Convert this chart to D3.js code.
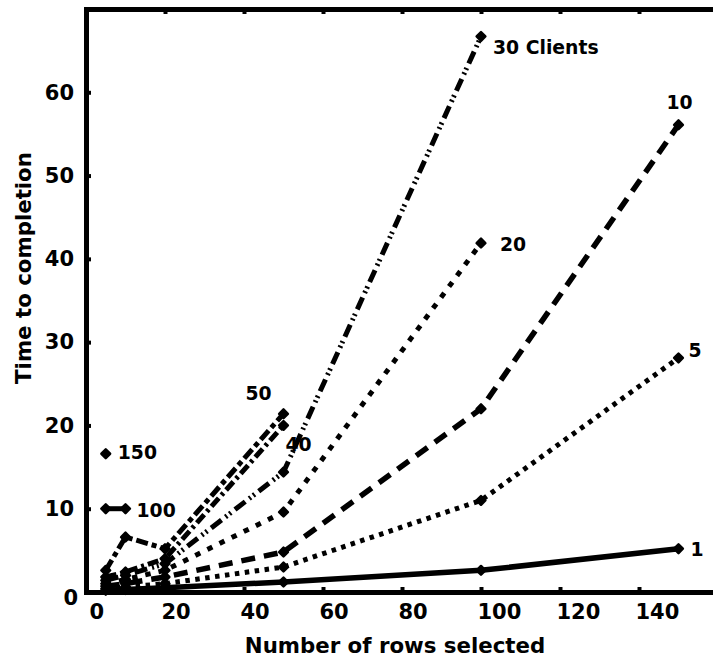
<!DOCTYPE html>
<html>
<head>
<meta charset="utf-8">
<script src="https://cdn.jsdelivr.net/npm/d3@7"></script>
<style>
  body { margin: 0; background: #fff; }
  svg { display: block; font-family: "DejaVu Sans", sans-serif; font-weight: bold; }
</style>
</head>
<body>
<svg id="chart" width="713" height="658"></svg>
<script>
// rows selected (x) and completion time per client count
const rows = [5, 10, 20, 50, 100, 150];
const time1   = [0.2, 0.3, 0.5, 1.2, 2.6, 5.2];
const time5   = [0.4, 0.6, 1.0, 3.0, 11.0, 28.1];
const time10  = [0.7, 1.0, 1.8, 4.8, 22.0, 56.1];
const time20  = [1.0, 1.5, 2.6, 9.6, 41.9];
const time30  = [1.4, 2.0, 3.4, 14.4, 66.7];
const time40  = [1.8, 2.4, 4.0, 20.0];
const time50  = [2.6, 6.6, 5.2, 21.4];
const time100 = [10.0, 10.0];
const time150 = [16.6];

const xTicks = [0, 20, 40, 60, 80, 100, 120, 140];
const yTicks = [0, 10, 20, 30, 40, 50, 60];

const seriesNames = ['1', '5', '10', '20', '30 Clients', '40', '50', '100', '150'];
const seriesVals  = [time1, time5, time10, time20, time30, time40, time50, time100, time150];

// ── styles per series (dash, width, label offset)
const styles = {
  '1':          { dash: null,              w: 5.5, lx: 12, ly: 7 },
  '5':          { dash: '4.5,5.5',         w: 5,   lx: 10, ly: -1 },
  '10':         { dash: '14,9',            w: 5.5, lx: -12, ly: -16 },
  '20':         { dash: '5.5,8',           w: 5,   lx: 19, ly: 8 },
  '30 Clients': { dash: '13,5,2,3,2,5',    w: 5,   lx: 12, ly: 18 },
  '40':         { dash: '11,4,3,4',        w: 5,   lx: 2,  ly: 26 },
  '50':         { dash: '12,4,5,4',        w: 5,   lx: -38, ly: -14 },
  '100':        { dash: null,              w: 5,   lx: 11, ly: 8 },
  '150':        { dash: null,              w: 5,   lx: 12, ly: 5 },
};

const svg = d3.select('#chart');
const x = d3.scaleLinear().domain([0, 160]).range([86, 718]);
const y = d3.scaleLinear().domain([0, 70]).range([592, 9]);

/* ── axes ─────────────────────────────────────────────── */
const gx = svg.append('g').attr('transform', `translate(0,${y(0)})`)
  .call(d3.axisBottom(x).tickValues(xTicks).tickSize(-5).tickSizeOuter(0).tickPadding(12));
gx.selectAll('text').attr('text-anchor', 'start').attr('dx', d => d === 0 ? 3 : -4);
gx.selectAll('.tick').filter(d => d === 0).select('line').remove();

const gy = svg.append('g').attr('transform', `translate(${x(0)},0)`)
  .call(d3.axisLeft(y).tickValues(yTicks).tickSize(-5).tickSizeOuter(0).tickPadding(12));
gy.selectAll('.tick').filter(d => d === 0).select('text').attr('dy', '0.6em').attr('dx', 4);

const gt = svg.append('g').attr('transform', `translate(0,${y(70)})`)
  .call(d3.axisTop(x).tickValues(xTicks.slice(1)).tickSize(-5).tickSizeOuter(0).tickFormat(''));

[gx, gy, gt].forEach(g => {
  g.select('.domain').attr('stroke', '#000').attr('stroke-width', 5).attr('stroke-linecap', 'square');
  g.selectAll('.tick line').attr('stroke', '#000').attr('stroke-width', 4);
  g.selectAll('text').attr('font-size', 21).attr('font-weight', 'bold')
    .attr('font-family', '"DejaVu Sans", sans-serif').attr('fill', '#000');
});

svg.append('text')
  .attr('x', 395).attr('y', 653)
  .attr('text-anchor', 'middle')
  .attr('font-size', 21.3)
  .text('Number of rows selected');

svg.append('text')
  .attr('transform', 'translate(31,268) rotate(-90)')
  .attr('text-anchor', 'middle')
  .attr('font-size', 21.3)
  .text('Time to completion');

/* ── series ───────────────────────────────────────────── */
const line = d3.line().x(d => x(d[0])).y(d => y(d[1]));
const marker = d3.symbol(d3.symbolSquare).size(38);

seriesNames.forEach((name, i) => {
  const pts = seriesVals[i].map((v, j) => [rows[j], v]);
  const st = styles[name];
  const g = svg.append('g');

  if (pts.length > 1) {
    g.append('path')
      .datum(pts)
      .attr('d', line)
      .attr('fill', 'none')
      .attr('stroke', '#000')
      .attr('stroke-width', st.w)
      .attr('stroke-dasharray', st.dash)
      .attr('stroke-linejoin', 'round');
  }

  g.selectAll('path.mk').data(pts).join('path')
    .attr('class', 'mk')
    .attr('d', marker)
    .attr('transform', d => `translate(${x(d[0])},${y(d[1])}) rotate(45)`)
    .attr('fill', '#000')
    .attr('stroke', '#000')
    .attr('stroke-width', 2.5)
    .attr('stroke-linejoin', 'round');

  const last = pts[pts.length - 1];
  g.append('text')
    .attr('x', x(last[0]) + st.lx)
    .attr('y', y(last[1]) + st.ly)
    .attr('font-size', 18.8)
    .text(name);
});
</script>
</body>
</html>
